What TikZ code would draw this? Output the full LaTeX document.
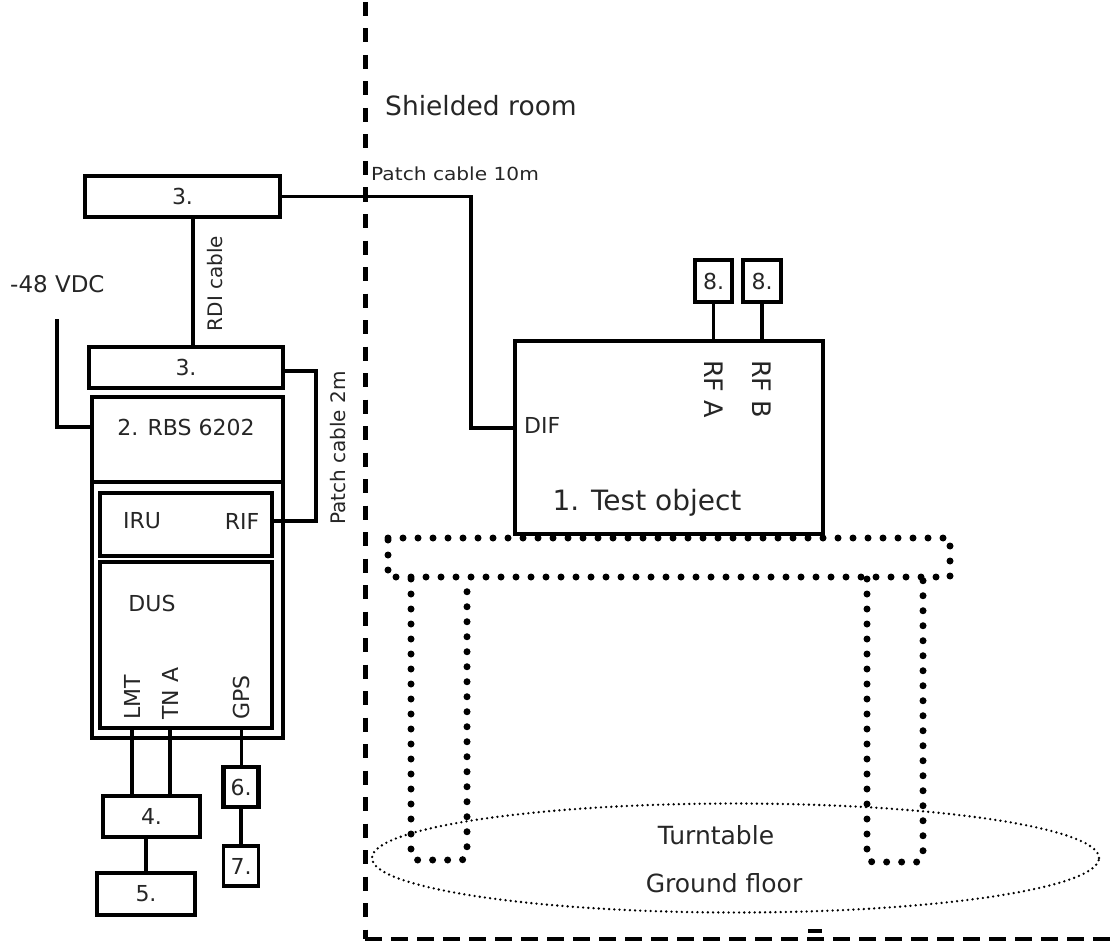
\documentclass[tikz,border=0pt]{standalone}
\usepackage{fontspec}
\setmainfont{DejaVu Sans}
\usepackage{tikz}
\usetikzlibrary{positioning,shapes.geometric}

\newcommand{\lbl}[1]{\fontsize{#1}{#1}\selectfont}

\begin{document}
\begin{tikzpicture}[x=1pt, y=-1pt,
  font=\lbl{22},
  box/.style={draw, line width=3.8pt, inner sep=0pt, text=black!85},
  wire/.style={line width=3.8pt},
  thin wire/.style={line width=3pt},
  tag/.style={inner sep=0pt, text=black!85},
  room/.style={line width=5pt, dash pattern=on 14pt off 12.5pt},
  floor/.style={line width=4pt, dash pattern=on 17pt off 9pt},
  table/.style={line width=7pt, line cap=round, dash pattern=on 0pt off 15pt},
  turn/.style={draw, ellipse, inner sep=0pt, line width=2.6pt, line cap=round, dash pattern=on 0pt off 5.2pt}]
\useasboundingbox (0,0) rectangle (1110,944);
% shielded room wall
\coordinate (wallt) at (365,2);
\coordinate (wallc) at (365,939);
\coordinate (wallr) at (1110,939);
\draw[room] (wallt) -- (wallc);
\draw[floor] (wallc) -- (wallr);
\coordinate (marka) at (808,931);
\coordinate (markb) at (822,931);
\draw[line width=4.5pt] (marka) -- (markb);
\node[tag, anchor=west, font=\lbl{26.5}] (shield) at (385,106) {Shielded room};
\node[tag, anchor=west, font=\lbl{18}, xscale=1.12, transform shape] (p10) at (371,174) {Patch cable 10m};
% rack side
\node[box, minimum width=195pt, minimum height=41pt] (rdia) at (182.5,196.5) {3.};
\node[box, minimum width=194pt, minimum height=41pt] (rdib) at (186,367.5) {3.};
\node[box, line width=3.2pt, minimum width=191pt, minimum height=341pt] (rbs) at (187.5,567.5) {};
\node[box, line width=3.2pt, minimum width=191pt, minimum height=85pt] (rbstop) at (187.5,439.5) {};
\node[tag] (rbsl) at (186,427) {2. RBS 6202};
\node[box, line width=4.8pt, minimum width=172pt, minimum height=63pt] (iru) at (186,524.5) {};
\node[tag] (irul) at (142,521) {IRU};
\node[tag] (rif) at (242,521) {RIF};
\node[box, line width=4.8pt, minimum width=172pt, minimum height=166pt] (dus) at (186,645) {};
\node[tag] (dusl) at (152,603) {DUS};
\node[tag, rotate=90, anchor=west] (lmt) at (132,720) {LMT};
\node[tag, rotate=90, anchor=west] (tna) at (170,720) {TN A};
\node[tag, rotate=90, anchor=west] (gps) at (241,720) {GPS};
\node[box, minimum width=97pt, minimum height=41pt] (b4) at (151.5,816.5) {4.};
\node[box, minimum width=98pt, minimum height=42pt] (b5) at (146,894) {5.};
\node[box, line width=4.8pt, minimum width=35pt, minimum height=40pt] (b6) at (241,787) {6.};
\node[box, minimum width=35pt, minimum height=40pt] (b7) at (241,866) {7.};
% test object
\node[box, minimum width=308pt, minimum height=193pt] (dut) at (669,437.5) {};
\node[tag, font=\lbl{28}] (dutl) at (647,503) {1. Test object};
\node[tag, anchor=west] (dif) at (524,425) {DIF};
\node[tag, rotate=-90, anchor=west, font=\lbl{25.5}] (rfa) at (714,360) {RF A};
\node[tag, rotate=-90, anchor=west, font=\lbl{25.5}] (rfb) at (762,360) {RF B};
\node[box, line width=4.3pt, minimum width=37pt, minimum height=42pt] (b8a) at (713.5,281) {8.};
\node[box, line width=4.3pt, minimum width=38pt, minimum height=42pt] (b8b) at (762,281) {8.};
% free labels
\node[tag, anchor=west, font=\lbl{23}] (vdc) at (10,284) {-48 VDC};
\node[tag, rotate=90, font=\lbl{20}] (rdil) at (215,283.5) {RDI cable};
\node[tag, rotate=90, font=\lbl{20}] (p2) at (338,448) {Patch cable 2m};
% connectors
\coordinate (vdcend) at (57,319);
\coordinate (bend10) at (471,196.5);
\coordinate (difport) at (515,428);
\coordinate (bend2) at (316,371);
\draw[wire] (vdcend) |- (rbs.west |- rbsl);
\draw[wire] ([xshift=10.5pt]rdia.south) -- ([xshift=7pt]rdib.north);
\draw[wire] (rdia.east) -- (bend10) |- (difport);
\draw[wire] ([yshift=-3.5pt]rdib.east) -- (bend2) |- (iru.east |- rif);
\draw[wire] (lmt.west |- dus.south) -- (lmt.west |- b4.north);
\draw[wire] (tna.west |- dus.south) -- (tna.west |- b4.north);
\draw[thin wire] (gps.west |- dus.south) -- (gps.west |- b6.north);
\draw[wire] (b6) -- (b7);
\draw[wire] (b4.south -| b5.north) -- (b5);
\draw[wire] (b8a) -- (b8a |- dut.north);
\draw[wire] (b8b) -- (b8b |- dut.north);
% table
\coordinate (ta) at (388,538);
\coordinate (tb) at (950,538);
\coordinate (tc) at (950,577);
\coordinate (td) at (388,577);
\draw[table] (ta) -- (tb) -- (tc) -- (td) -- cycle;
\foreach \xa/\xb/\yb in {411/467/860, 867/923/862}{
  \draw[table, rounded corners=6pt] (\xa,579) -- (\xa,\yb) -- (\xb,\yb) -- (\xb,579);
}
% turntable
\node[turn, minimum width=727pt, minimum height=109pt] (turnt) at (735.5,858) {};
\node[tag, font=\lbl{25}] (turnl) at (716,835) {Turntable};
\node[tag, font=\lbl{25}] (gnd) at (724,883) {Ground floor};
\end{tikzpicture}
\end{document}
